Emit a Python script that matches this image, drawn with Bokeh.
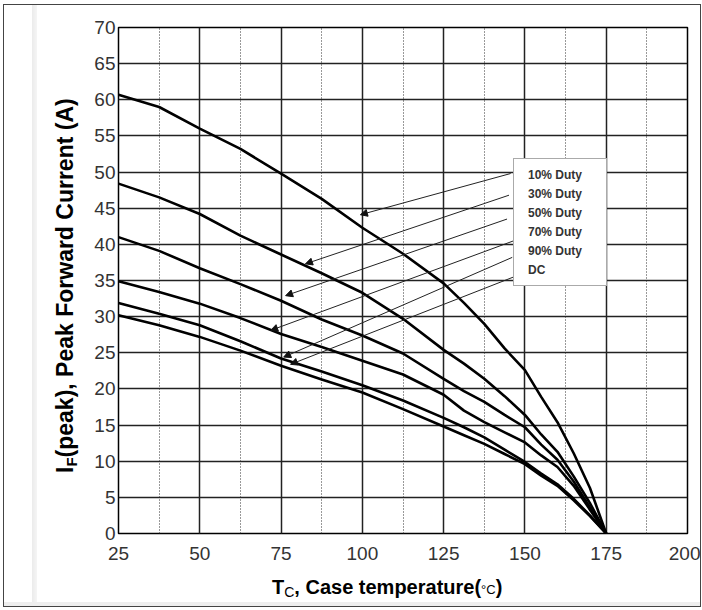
from bokeh.plotting import figure
from bokeh.models import (Range1d, SingleIntervalTicker, Arrow, NormalHead,
                          Legend, LegendItem, Div)
from bokeh.layouts import row, column
from bokeh.embed import file_html
from bokeh.resources import INLINE

# ---------------- data ----------------
temp = [25, 37.5, 50, 62.5, 75, 87.5, 100, 112.5, 125, 131.25, 137.5, 143.75, 150, 155,
        160, 165, 170, 175]
duty10 = [60.7, 59.0, 56.0, 53.2, 49.8, 46.3, 42.3, 38.7, 34.6, 31.9, 29.0, 25.6, 22.6,
          18.9, 15.4, 11.1, 6.3, 0.0]
duty30 = [48.4, 46.5, 44.2, 41.2, 38.6, 36.0, 33.3, 29.7, 25.4, 23.5, 21.4, 19.0, 16.4,
          13.7, 11.3, 7.9, 4.2, 0.0]
duty50 = [41.0, 39.1, 36.7, 34.5, 32.2, 29.6, 27.4, 24.9, 21.4, 19.7, 18.2, 16.4, 14.7,
          12.3, 10.2, 7.2, 3.6, 0.0]
duty70 = [34.9, 33.4, 31.8, 29.8, 27.6, 25.8, 23.9, 22.0, 19.2, 17.0, 15.4, 14.0, 12.6,
          10.8, 9.2, 6.6, 3.3, 0.0]
duty90 = [31.9, 30.4, 28.8, 26.6, 24.2, 22.4, 20.5, 18.4, 16.0, 14.7, 13.3, 11.6, 9.9,
          8.3, 6.8, 4.8, 2.5, 0.0]
dc = [30.2, 28.8, 27.2, 25.3, 23.2, 21.3, 19.5, 17.2, 14.8, 13.6, 12.4, 11.0, 9.6,
      8.0, 6.6, 4.6, 2.4, 0.0]

series_names = ["10% Duty", "30% Duty", "50% Duty", "70% Duty", "90% Duty", "DC"]
series_values = [duty10, duty30, duty50, duty70, duty90, dc]

# arrows from the legend labels to the curves (data coordinates)
arrow_x_start = [145.6, 145.1, 144.5, 146.6, 146.1, 146.6]
arrow_y_start = [49.8, 46.8, 43.5, 40.5, 38.2, 35.5]
arrow_x_end = [99.4, 82.5, 76.4, 71.8, 75.8, 77.9]
arrow_y_end = [44.1, 37.3, 32.9, 28.1, 24.4, 23.4]

x_start, x_end, x_step = 25, 200, 25
y_start, y_end, y_step = 0, 70, 5

FONT = "Liberation Sans"

p = figure(width=616, height=562, output_backend="svg", toolbar_location=None,
           x_range=Range1d(x_start, x_end), y_range=Range1d(y_start, y_end),
           min_border_left=34, min_border_top=22, min_border_right=13,
           min_border_bottom=34, margin=0)
p.background_fill_color = "white"
p.border_fill_color = "white"
p.outline_line_color = "black"
p.outline_line_width = 1.5

p.xaxis.ticker = SingleIntervalTicker(interval=x_step, num_minor_ticks=2)
p.yaxis.ticker = SingleIntervalTicker(interval=y_step, num_minor_ticks=0)

for ax in (p.xaxis[0], p.yaxis[0]):
    ax.axis_line_color = None
    ax.major_tick_line_color = None
    ax.minor_tick_line_color = None
    ax.major_tick_out = 0
    ax.major_tick_in = 0
    ax.minor_tick_out = 0
    ax.minor_tick_in = 0
    ax.major_label_text_font = FONT
    ax.major_label_text_font_size = "19px"
    ax.major_label_text_color = "#333333"
p.xaxis.major_label_standoff = 13
p.yaxis.major_label_standoff = 3

p.xgrid.grid_line_color = "#222222"
p.xgrid.grid_line_width = 1.5
p.xgrid.minor_grid_line_color = "#333333"
p.xgrid.minor_grid_line_width = 1
p.xgrid.minor_grid_line_dash = "1 2"
p.ygrid.grid_line_color = "#222222"
p.ygrid.grid_line_width = 1.5

renderers = []
for vals in series_values:
    r = p.line(temp, vals, line_color="black", line_width=2.6, line_join="round")
    renderers.append(r)

for xs, ys, xe, ye in zip(arrow_x_start, arrow_y_start, arrow_x_end, arrow_y_end):
    p.add_layout(Arrow(end=NormalHead(size=7, fill_color="#111", line_color="#111", line_width=1),
                       x_start=xs, y_start=ys, x_end=xe, y_end=ye,
                       line_color="#222", line_width=1))

legend = Legend(items=[LegendItem(label=n, renderers=[r]) for n, r in zip(series_names, renderers)],
                location=(395, 247), glyph_width=0, glyph_height=19, label_height=19,
                spacing=0, padding=6, label_standoff=8, label_width=72, margin=0,
                label_text_font=FONT, label_text_font_size="12px",
                label_text_font_style="bold", label_text_color="#333333",
                border_line_color="#555555", border_line_width=1,
                background_fill_color="white", background_fill_alpha=1.0)
p.add_layout(legend)

# ---- axis titles (HTML so the subscripts stay real text) ----
ylab_html = (
    "<div style=\"transform-origin:0 0; transform:translate(50px,468px) rotate(-90deg);"
    " white-space:nowrap; font-family:'Liberation Sans'; font-weight:bold;"
    " font-size:23px; line-height:1; color:#000;\">"
    "I<sub style=\"font-size:15px; line-height:1; vertical-align:-4px;\">F</sub>"
    "(peak), Peak Forward Current (A)</div>"
)
xlab_html = (
    "<div style=\"transform:translate(188px,10px); white-space:nowrap;"
    " font-family:'Liberation Sans'; font-weight:bold; font-size:20px; line-height:1;"
    " color:#000;\">"
    "T<sub style=\"font-size:14px; font-weight:normal; line-height:1; vertical-align:-3px;\">C</sub>"
    ", Case temperature(<span style=\"font-size:13px; font-weight:normal;\">°C</span>)</div>"
)
ylab = Div(text=ylab_html, width=80, height=601, margin=0,
           styles={"padding": "0",
                   "background": "linear-gradient(to bottom, transparent 597px, #eeeeee 597px), "
                                 "linear-gradient(to right, white 28px, #ebebeb 28px, #f5f5f5 33px, white 33px)"})
xlab = Div(text=xlab_html, width=616, height=39, margin=0,
           styles={"padding": "0",
                   "background": "linear-gradient(to bottom, white 35px, #eeeeee 35px)"})

layout = row(ylab, column(p, xlab, spacing=0, margin=0), spacing=0, margin=(4, 0, 0, 3),
             styles={"border": "1px solid #444", "background-color": "white"})

open("out.html", "w").write(file_html(layout, INLINE))
